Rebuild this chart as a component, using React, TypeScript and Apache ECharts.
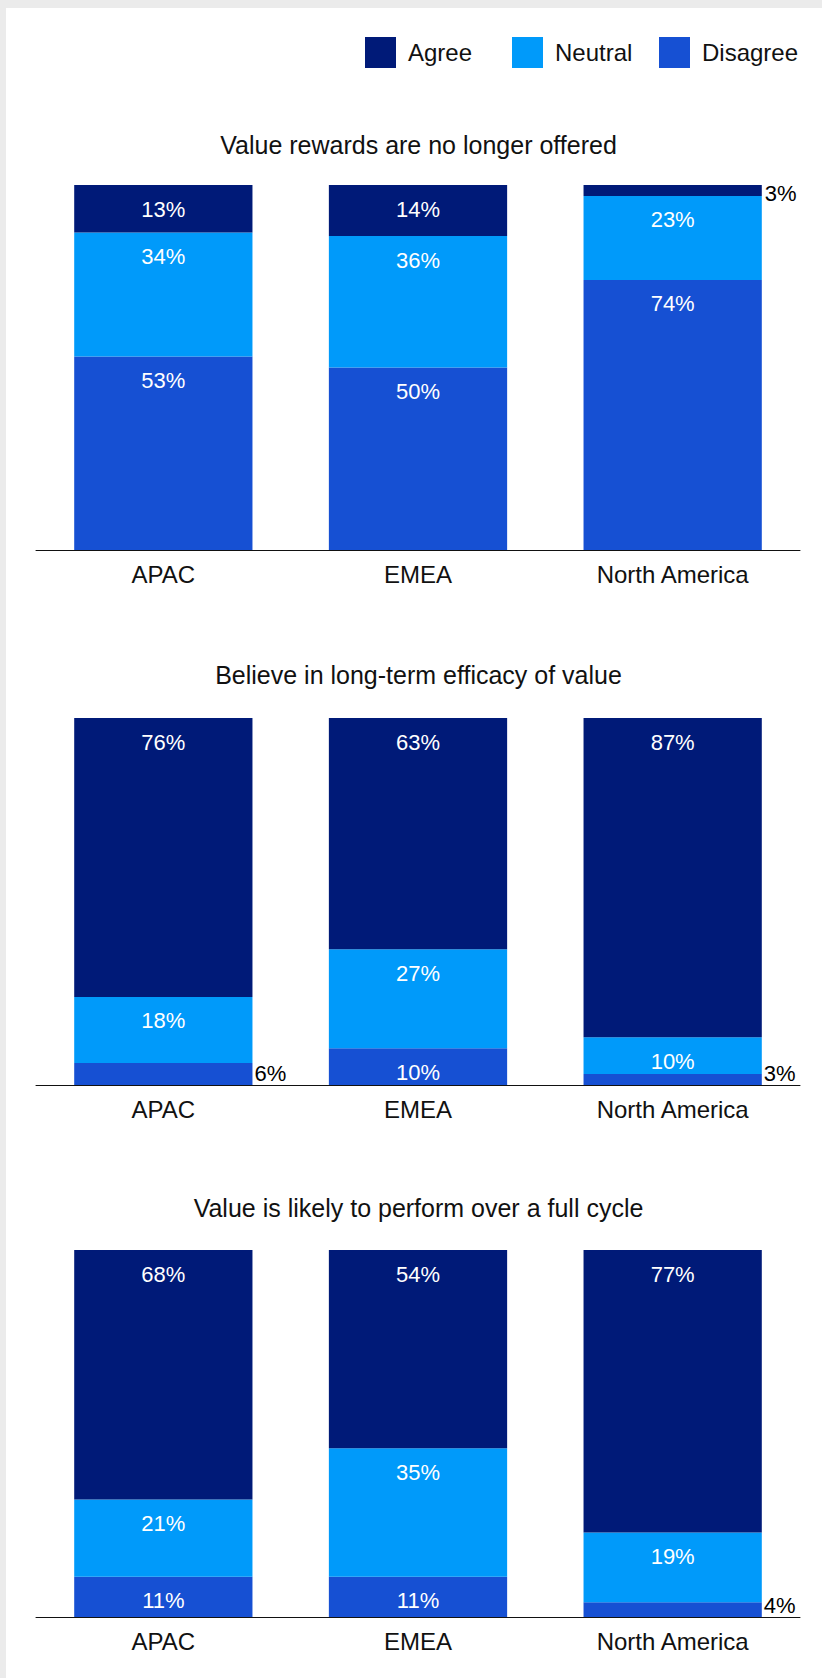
import React, { useEffect, useRef } from "react";
import * as echarts from "echarts";

const categories = ["APAC", "EMEA", "North America"];
const seriesNames = ["Agree", "Neutral", "Disagree"];
const chartTitles = [
  "Value rewards are no longer offered",
  "Believe in long-term efficacy of value",
  "Value is likely to perform over a full cycle",
];

// chart 1
const rewardsAgree = [13, 14, 3];
const rewardsNeutral = [34, 36, 23];
const rewardsDisagree = [53, 50, 74];
// chart 2
const efficacyAgree = [76, 63, 87];
const efficacyNeutral = [18, 27, 10];
const efficacyDisagree = [6, 10, 3];
// chart 3
const cycleAgree = [68, 54, 77];
const cycleNeutral = [21, 35, 19];
const cycleDisagree = [11, 11, 4];

const COLORS: Record<string, string> = {
  Agree: "#001a78",
  Neutral: "#009afa",
  Disagree: "#1650d3",
};

const FONT = "'Liberation Sans', Arial, sans-serif";

const grids = [
  { top: 177, height: 365 },
  { top: 710, height: 367 },
  { top: 1242, height: 367 },
];
const titleTops = [124, 654, 1187];

export default function App() {
  const ref = useRef<HTMLDivElement>(null);

  useEffect(() => {
    if (!ref.current) return;
    const chart = echarts.init(ref.current, undefined, { renderer: "svg" });

    const data = [
      { Agree: rewardsAgree, Neutral: rewardsNeutral, Disagree: rewardsDisagree },
      { Agree: efficacyAgree, Neutral: efficacyNeutral, Disagree: efficacyDisagree },
      { Agree: cycleAgree, Neutral: cycleNeutral, Disagree: cycleDisagree },
    ];

    const series: any[] = [];
    data.forEach((d, gi) => {
      // bottom to top: Disagree, Neutral, Agree
      ["Disagree", "Neutral", "Agree"].forEach((name) => {
        const vals: number[] = (d as any)[name];
        series.push({
          type: "bar",
          name,
          stack: "s" + gi,
          xAxisIndex: gi,
          yAxisIndex: gi,
          barWidth: "70%",
          itemStyle: { color: COLORS[name] },
          label: {
            show: true,
            position: "insideTop",
            distance: 13,
            color: "#ffffff",
            fontSize: 22,
            lineHeight: 22,
            fontFamily: FONT,
            formatter: "{c}%",
          },
          data: vals.map((v) => {
            if (v >= 8) return v;
            if (name === "Disagree") {
              return {
                value: v,
                label: {
                  position: ["100%", "100%"],
                  align: "left",
                  verticalAlign: "bottom",
                  offset: [2, -1],
                  color: "#000000",
                },
              };
            }
            return {
              value: v,
              label: {
                position: "right",
                distance: 3,
                offset: [0, 3],
                color: "#000000",
              },
            };
          }),
        });
      });
    });

    const legendLefts = [359, 506, 653];

    chart.setOption({
      animation: false,
      textStyle: { fontFamily: FONT },
      title: chartTitles.map((t, i) => ({
        text: t,
        left: 412.5,
        top: titleTops[i],
        textAlign: "center",
        padding: 0,
        textStyle: {
          fontSize: 25,
          lineHeight: 25,
          fontWeight: "normal",
          color: "#111111",
          fontFamily: FONT,
        },
      })),
      legend: seriesNames.map((n, i) => ({
        data: [n],
        left: legendLefts[i],
        top: 29,
        padding: 0,
        itemWidth: 31,
        itemHeight: 31,
        icon: "rect",
        selectedMode: false,
        textStyle: {
          fontSize: 24,
          color: "#111111",
          fontFamily: FONT,
          padding: [0, 0, 0, 7],
        },
      })),
      grid: grids.map((g) => ({
        left: 30,
        width: 764,
        top: g.top,
        height: g.height,
      })),
      xAxis: grids.map((_, i) => ({
        type: "category",
        gridIndex: i,
        data: categories,
        axisLine: { show: true, lineStyle: { color: "#111111", width: 1 } },
        axisTick: { show: false },
        axisLabel: {
          fontSize: 24,
          lineHeight: 24,
          color: "#111111",
          margin: 12,
          fontFamily: FONT,
        },
        z: 5,
      })),
      yAxis: grids.map((_, i) => ({
        type: "value",
        gridIndex: i,
        min: 0,
        max: 100,
        show: false,
        splitLine: { show: false },
      })),
      series,
    });

    return () => chart.dispose();
  }, []);

  return (
    <div
      style={{
        position: "absolute",
        left: 0,
        top: 0,
        width: 822,
        height: 1678,
        background: "#ebebeb",
        overflow: "hidden",
      }}
    >
      <div
        ref={ref}
        style={{
          position: "absolute",
          left: 6,
          top: 8,
          width: 816,
          height: 1670,
          background: "#ffffff",
        }}
      />
    </div>
  );
}
